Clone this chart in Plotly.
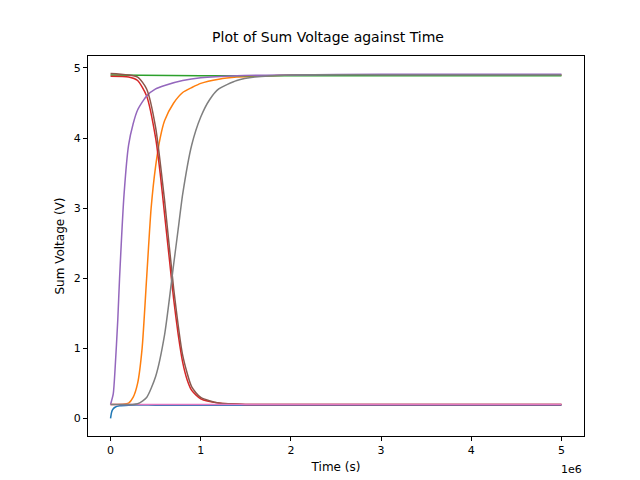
import plotly.graph_objects as go

t_blue = [0, 0.01, 0.02, 0.05, 0.1, 0.2, 0.5, 1, 2, 3, 4, 5]
v_blue = [0.0, 0.08, 0.12, 0.16, 0.18, 0.19, 0.19, 0.19, 0.19, 0.19, 0.19, 0.19]

t_orange = [0, 0.2, 0.25, 0.3, 0.35, 0.4, 0.45, 0.5, 0.55, 0.6, 0.7, 0.8, 0.9, 1.0, 1.2, 1.4, 1.6, 2, 3, 4, 5]
v_orange = [0.2, 0.22, 0.3, 0.5, 1.0, 2.0, 3.0, 3.6, 4.0, 4.25, 4.5, 4.65, 4.72, 4.78, 4.84, 4.87, 4.88, 4.9, 4.9, 4.9, 4.9]

t_green = [0, 1, 2, 3, 4, 5]
v_green = [4.9, 4.89, 4.89, 4.89, 4.89, 4.89]

t_red = [0, 0.2, 0.3, 0.4, 0.5, 0.55, 0.6, 0.65, 0.7, 0.75, 0.8, 0.85, 0.9, 1.0, 1.2, 1.5, 2, 3, 4, 5]
v_red = [4.88, 4.87, 4.82, 4.6, 4.0, 3.5, 2.9, 2.3, 1.7, 1.2, 0.8, 0.55, 0.4, 0.28, 0.22, 0.2, 0.2, 0.2, 0.2, 0.2]

t_purple = [0, 0.03, 0.05, 0.08, 0.1, 0.15, 0.2, 0.25, 0.3, 0.4, 0.5, 0.6, 0.8, 1.0, 1.4, 2, 3, 4, 5]
v_purple = [0.2, 0.35, 0.7, 1.4, 2.0, 3.2, 3.9, 4.2, 4.4, 4.6, 4.7, 4.75, 4.82, 4.86, 4.89, 4.9, 4.91, 4.91, 4.91]

t_brown = [0, 0.3, 0.4, 0.5, 0.6, 0.7, 0.8, 0.9, 1.0, 1.2, 1.5, 2, 3, 4, 5]
v_brown = [4.92, 4.87, 4.7, 4.15, 3.1, 1.85, 0.9, 0.45, 0.3, 0.22, 0.2, 0.2, 0.2, 0.2, 0.2]

t_pink = [0, 1, 2, 3, 4, 5]
v_pink = [0.2, 0.2, 0.2, 0.2, 0.2, 0.2]

t_gray = [0, 0.3, 0.4, 0.5, 0.6, 0.7, 0.75, 0.8, 0.9, 1.0, 1.1, 1.2, 1.4, 1.6, 2.0, 3, 4, 5]
v_gray = [0.2, 0.21, 0.3, 0.6, 1.2, 2.2, 2.7, 3.2, 3.9, 4.3, 4.55, 4.7, 4.82, 4.87, 4.9, 4.9, 4.9, 4.9]

x_ticks = [0, 1, 2, 3, 4, 5]
y_ticks = [0, 1, 2, 3, 4, 5]

series = [
    (t_blue, v_blue, "#1f77b4"),
    (t_orange, v_orange, "#ff7f0e"),
    (t_green, v_green, "#2ca02c"),
    (t_red, v_red, "#d62728"),
    (t_purple, v_purple, "#9467bd"),
    (t_brown, v_brown, "#8c564b"),
    (t_pink, v_pink, "#e377c2"),
    (t_gray, v_gray, "#7f7f7f"),
]

fig = go.Figure()
for t, v, c in series:
    fig.add_trace(go.Scatter(
        x=[x * 1e6 for x in t], y=v, mode="lines",
        line=dict(color=c, width=1.5, shape="spline", smoothing=0.6),
        showlegend=False))

axis_style = dict(showgrid=False, zeroline=False, showline=True, mirror=True,
                  linecolor="black", linewidth=1, ticks="outside", ticklen=4,
                  tickcolor="black", tickfont=dict(size=11, color="black"),
                  automargin=False)

fig.update_layout(
    width=640, height=480,
    margin=dict(l=80, r=64, t=48, b=52, autoexpand=False),
    paper_bgcolor="white", plot_bgcolor="white",
    font=dict(family="DejaVu Sans", color="black"),
    title=dict(text="Plot of Sum Voltage against Time", x=0.5, y=0.95,
               xanchor="center", font=dict(size=14)),
    xaxis=dict(axis_style, range=[-0.25e6, 5.25e6],
               tickvals=[x * 1e6 for x in x_ticks],
               ticktext=[str(x) for x in x_ticks],
               title=dict(text="Time (s)", font=dict(size=12), standoff=6)),
    yaxis=dict(axis_style, range=[-0.25, 5.17], tickvals=y_ticks,
               title=dict(text="Sum Voltage (V)", font=dict(size=12), standoff=6)),
)
fig.add_annotation(text="1e6", xref="paper", yref="paper", x=1, y=-0.065,
                   xanchor="right", yanchor="top", showarrow=False,
                   font=dict(size=11))

fig.write_html("out.html")
